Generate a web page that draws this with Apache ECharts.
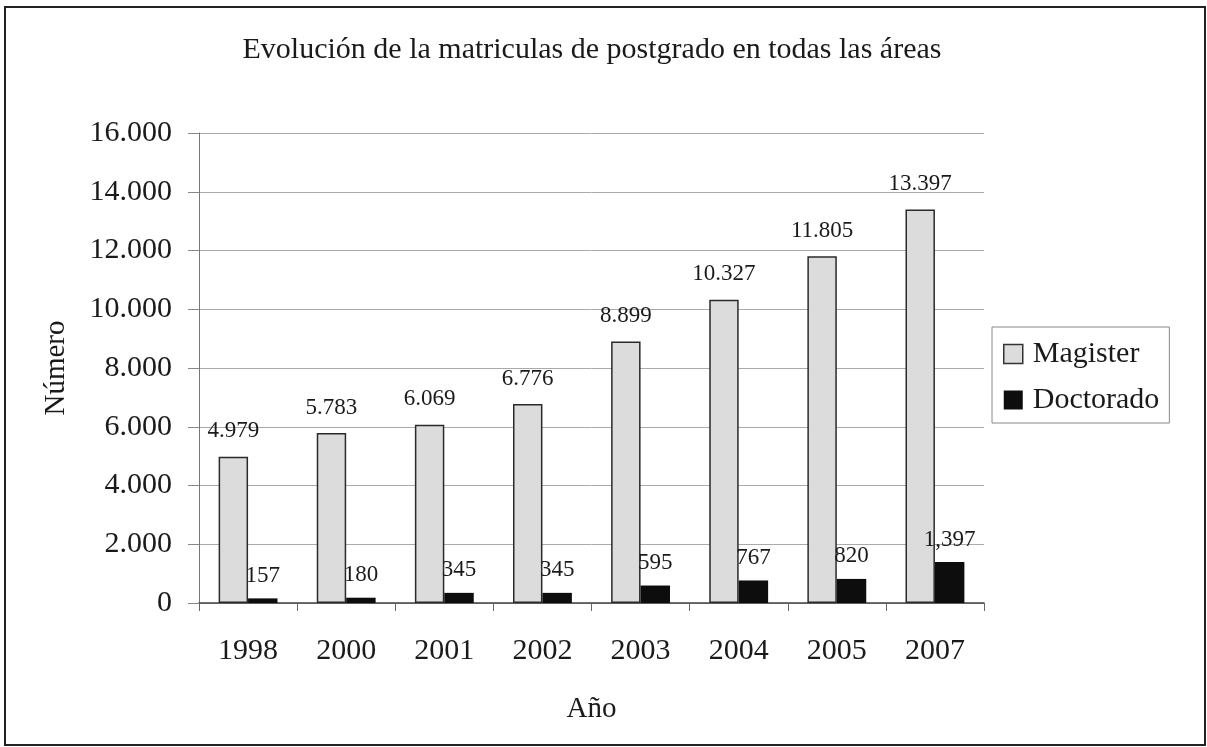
<!DOCTYPE html>
<html>
<head>
<meta charset="utf-8">
<script src="https://cdn.jsdelivr.net/npm/echarts@6/dist/echarts.min.js"></script>
<style>
  html, body { margin: 0; padding: 0; background: #fff; }
  #chart { width: 1207px; height: 747px; }
</style>
</head>
<body>
<div id="chart"></div>
<script>
const categories = ['1998', '2000', '2001', '2002', '2003', '2004', '2005', '2007'];
const magister = [4979, 5783, 6069, 6776, 8899, 10327, 11805, 13397];
const doctorado = [157, 180, 345, 345, 595, 767, 820, 1397];
const doctoradoLabelText = ['157', '180', '345', '345', '595', '767', '820', '1,397'];
const yTicks = { min: 0, max: 16000, interval: 2000 };

const FONT = "'Liberation Serif', 'Times New Roman', serif";
function fmt(v) {
  return String(v).replace(/\B(?=(\d{3})+(?!\d))/g, '.');
}

const chart = echarts.init(document.getElementById('chart'), null, { renderer: 'canvas' });
chart.setOption({
  backgroundColor: '#ffffff',
  animation: false,
  title: {
    text: 'Evolución de la matriculas de postgrado en todas las áreas',
    left: 587,
    textAlign: 'center',
    top: 30,
    textStyle: { fontFamily: FONT, fontSize: 30, fontWeight: 'normal', color: '#1a1a1a' }
  },
  legend: {
    orient: 'vertical',
    left: 992,
    top: 327,
    padding: [12, 10, 8, 11],
    itemGap: 16,
    itemWidth: 19,
    itemHeight: 19,
    borderColor: '#888',
    borderWidth: 1,
    textStyle: { fontFamily: FONT, fontSize: 30, lineHeight: 30, color: '#1a1a1a', padding: [0, 0, 0, 5] },
    data: [
      { name: 'Magister', icon: 'rect', itemStyle: { color: '#dcdcdc', borderColor: '#333', borderWidth: 1.5 } },
      { name: 'Doctorado', icon: 'rect', itemStyle: { color: '#0d0d0d' } }
    ]
  },
  graphic: [{
    type: 'rect',
    shape: { x: 5, y: 7, width: 1200, height: 738 },
    style: { fill: 'none', stroke: '#222', lineWidth: 2 },
    silent: true
  }],
  grid: { left: 199, right: 223, top: 133, bottom: 144, containLabel: false },
  xAxis: {
    type: 'category',
    data: categories,
    name: 'Año',
    nameLocation: 'middle',
    nameGap: 92,
    nameTextStyle: { fontFamily: FONT, fontSize: 29, color: '#1a1a1a' },
    axisLine: { lineStyle: { color: '#444', width: 1.5 } },
    axisTick: { show: true, length: 8, lineStyle: { color: '#666' } },
    axisLabel: { fontFamily: FONT, fontSize: 30, color: '#1a1a1a', margin: 33 },
    splitLine: { show: false }
  },
  yAxis: {
    type: 'value',
    min: yTicks.min,
    max: yTicks.max,
    interval: yTicks.interval,
    name: 'Número',
    nameLocation: 'middle',
    nameRotate: 90,
    nameGap: 128,
    nameTextStyle: { fontFamily: FONT, fontSize: 29, color: '#1a1a1a' },
    axisLine: { show: true, lineStyle: { color: '#777', width: 1 } },
    axisTick: { show: true, length: 11, lineStyle: { color: '#888' } },
    axisLabel: { fontFamily: FONT, fontSize: 30, color: '#1a1a1a', margin: 27, formatter: fmt },
    splitLine: { show: true, lineStyle: { color: '#aaa', width: 1 } }
  },
  series: [
    {
      name: 'Magister',
      type: 'bar',
      data: magister,
      barGap: '0%',
      barCategoryGap: '40%',
      itemStyle: { color: '#dcdcdc', borderColor: '#2a2a2a', borderWidth: 1.5 },
      label: {
        show: true,
        position: 'top',
        distance: 14,
        fontFamily: FONT,
        fontSize: 23,
        color: '#1a1a1a',
        formatter: p => fmt(p.value)
      }
    },
    {
      name: 'Doctorado',
      type: 'bar',
      data: doctorado,
      itemStyle: { color: '#0d0d0d' },
      label: {
        show: true,
        position: 'top',
        distance: 11,
        fontFamily: FONT,
        fontSize: 23,
        color: '#1a1a1a',
        formatter: p => doctoradoLabelText[p.dataIndex]
      }
    }
  ]
});
</script>
</body>
</html>
